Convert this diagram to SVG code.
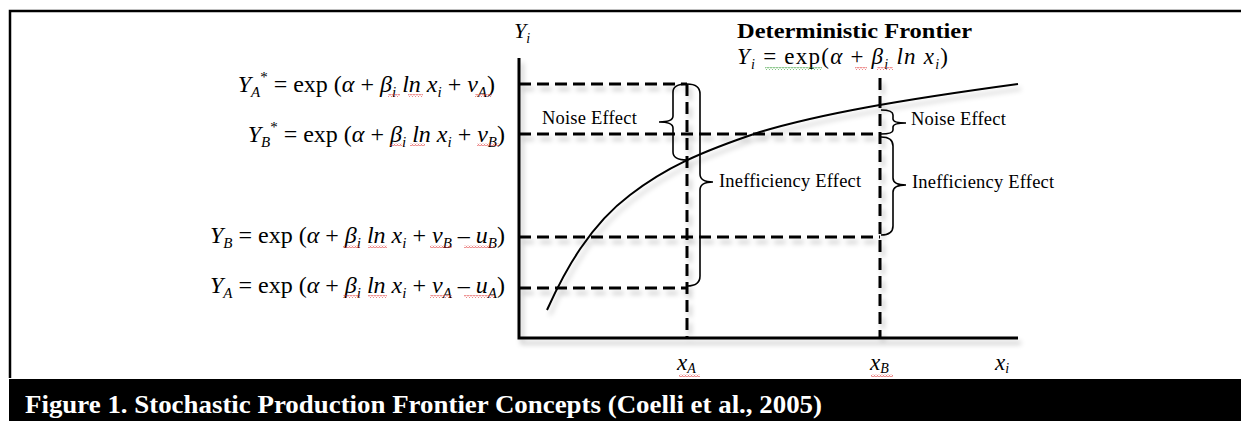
<svg xmlns="http://www.w3.org/2000/svg" width="1241" height="421" viewBox="0 0 1241 421">
<style>
.t{font-family:"Liberation Serif","Times New Roman",Times,serif;fill:#000}
.it{font-style:italic}
.dash{stroke:#000;stroke-width:3;stroke-dasharray:12 6;fill:none}
.axis{stroke:#000;stroke-width:3;fill:none}
.brace{stroke:#000;stroke-width:1.6;fill:none}
.curve{stroke:#000;stroke-width:2;fill:none}
.lbl{font-family:"Liberation Serif","Times New Roman",Times,serif;font-size:18.5px;fill:#000;letter-spacing:0.2px}
.wr{fill:url(#wr)}
.wg{fill:url(#wg)}
</style>
<defs>
<filter id="sh" x="-10%" y="-10%" width="130%" height="140%">
<feDropShadow dx="3" dy="5" stdDeviation="2.5" flood-color="#000" flood-opacity="0.22"/>
</filter>
<pattern id="wr" width="3" height="3" patternUnits="userSpaceOnUse"><path d="M0,2.5 L1.5,0.5 L3,2.5" stroke="#e03030" stroke-width="0.7" fill="none"/></pattern>
<pattern id="wg" width="3" height="3" patternUnits="userSpaceOnUse"><path d="M0,2.5 L1.5,0.5 L3,2.5" stroke="#2a9a2a" stroke-width="0.7" fill="none"/></pattern>
</defs>
<rect x="0" y="0" width="1241" height="421" fill="#fff"/>
<g id="frame">
<path d="M10,378 V11 H1241" stroke="#000" stroke-width="2.5" fill="none"/>
<rect x="9" y="379" width="1232" height="42" fill="#000"/>
<text x="25" y="413" font-family="Liberation Serif, Times New Roman, serif" font-size="25" font-weight="bold" fill="#fff" textLength="797" lengthAdjust="spacingAndGlyphs">Figure 1.  Stochastic Production Frontier Concepts (Coelli et al., 2005)</text>
</g>
<g id="connectors" filter="url(#sh)">
<path class="axis" d="M519,58 V338 H1018"/>
<path class="dash" d="M519,84 H687"/>
<path class="dash" d="M519,134 H880"/>
<path class="dash" d="M519,237 H880"/>
<path class="dash" d="M519,288 H687"/>
<path class="dash" d="M687,84 V338"/>
<path class="dash" d="M880,78 V338"/>
<path class="curve" d="M547,310 C565,270 590,225 630,195 C665,168 700,152 760,132 C820,114 900,100 1018,84"/>
</g>
<g id="brace-noise-A">
<path class="brace" d="M687,84 Q673,84 673,92 L673,116 Q673,122 659,122 Q673,122 673,128 L673,152 Q673,160 687,160"/>
<text class="lbl" x="542" y="124">Noise Effect</text>
</g>
<g id="brace-ineff-A">
<path class="brace" d="M687,84 Q700,84 700,94 L700,174 Q700,182 713,182 Q700,182 700,190 L700,276 Q700,286 687,286"/>
<text class="lbl" x="719" y="187">Inefficiency Effect</text>
</g>
<g id="brace-noise-B">
<path class="brace" d="M881,110 Q893,110 893,115 L893,119 Q893,123 906,123 Q893,123 893,127 L893,130 Q893,134 881,134"/>
<text class="lbl" x="911" y="125">Noise Effect</text>
</g>
<g id="brace-ineff-B">
<path class="brace" d="M881,137 Q893,137 893,146 L893,178 Q893,185 906,185 Q893,185 893,192 L893,226 Q893,235 881,235"/>
<text class="lbl" x="912" y="188">Inefficiency Effect</text>
</g>
<g id="eq-YAstar">
<text class="t" x="495" y="92" font-size="24" text-anchor="end"><tspan class="it">Y</tspan><tspan class="it" font-size="15" dy="5">A</tspan><tspan font-size="15" dy="-15">*</tspan><tspan dy="10"> = exp (</tspan><tspan class="it">α</tspan> + <tspan class="it">β</tspan><tspan class="it" font-size="15" dy="5">i</tspan><tspan dy="-5"> </tspan><tspan class="it">ln x</tspan><tspan class="it" font-size="15" dy="5">i</tspan><tspan dy="-5"> + </tspan><tspan class="it">v</tspan><tspan class="it" font-size="15" dy="5">A</tspan><tspan dy="-5">)</tspan></text>
<rect class="wr" x="388" y="94" width="12" height="3"/><rect class="wr" x="408" y="94" width="15" height="3"/><rect class="wr" x="475" y="94" width="17" height="3"/>
</g>
<g id="eq-YBstar">
<text class="t" x="505" y="142" font-size="24" text-anchor="end"><tspan class="it">Y</tspan><tspan class="it" font-size="15" dy="5">B</tspan><tspan font-size="15" dy="-15">*</tspan><tspan dy="10"> = exp (</tspan><tspan class="it">α</tspan> + <tspan class="it">β</tspan><tspan class="it" font-size="15" dy="5">i</tspan><tspan dy="-5"> </tspan><tspan class="it">ln x</tspan><tspan class="it" font-size="15" dy="5">i</tspan><tspan dy="-5"> + </tspan><tspan class="it">v</tspan><tspan class="it" font-size="15" dy="5">B</tspan><tspan dy="-5">)</tspan></text>
<rect class="wr" x="390" y="143" width="12" height="3"/><rect class="wr" x="410" y="143" width="15" height="3"/><rect class="wr" x="477" y="143" width="22" height="3"/>
</g>
<g id="eq-YB">
<text class="t" x="505" y="243" font-size="24" text-anchor="end"><tspan class="it">Y</tspan><tspan class="it" font-size="15" dy="5">B</tspan><tspan dy="-5"> = exp (</tspan><tspan class="it">α</tspan> + <tspan class="it">β</tspan><tspan class="it" font-size="15" dy="5">i</tspan><tspan dy="-5"> </tspan><tspan class="it">ln x</tspan><tspan class="it" font-size="15" dy="5">i</tspan><tspan dy="-5"> + </tspan><tspan class="it">v</tspan><tspan class="it" font-size="15" dy="5">B</tspan><tspan dy="-5"> – </tspan><tspan class="it">u</tspan><tspan class="it" font-size="15" dy="5">B</tspan><tspan dy="-5">)</tspan></text>
<rect class="wr" x="343" y="245" width="17" height="3"/><rect class="wr" x="368" y="245" width="19" height="3"/><rect class="wr" x="430" y="245" width="22" height="3"/><rect class="wr" x="464" y="245" width="30" height="3"/>
</g>
<g id="eq-YA">
<text class="t" x="505" y="293" font-size="24" text-anchor="end"><tspan class="it">Y</tspan><tspan class="it" font-size="15" dy="5">A</tspan><tspan dy="-5"> = exp (</tspan><tspan class="it">α</tspan> + <tspan class="it">β</tspan><tspan class="it" font-size="15" dy="5">i</tspan><tspan dy="-5"> </tspan><tspan class="it">ln x</tspan><tspan class="it" font-size="15" dy="5">i</tspan><tspan dy="-5"> + </tspan><tspan class="it">v</tspan><tspan class="it" font-size="15" dy="5">A</tspan><tspan dy="-5"> – </tspan><tspan class="it">u</tspan><tspan class="it" font-size="15" dy="5">A</tspan><tspan dy="-5">)</tspan></text>
<rect class="wr" x="343" y="295" width="17" height="3"/><rect class="wr" x="368" y="295" width="19" height="3"/><rect class="wr" x="430" y="295" width="22" height="3"/><rect class="wr" x="464" y="295" width="30" height="3"/>
</g>
<g id="title">
<text class="t" x="737" y="38" font-size="21" font-weight="bold" textLength="235" lengthAdjust="spacingAndGlyphs">Deterministic Frontier</text>
<text class="t" x="737" y="64" font-size="23" textLength="211" lengthAdjust="spacing"><tspan class="it">Y</tspan><tspan class="it" font-size="14" dy="5">i</tspan><tspan dy="-5"> = exp(</tspan><tspan class="it">α</tspan> + <tspan class="it">β</tspan><tspan class="it" font-size="14" dy="5">i</tspan><tspan dy="-5"> </tspan><tspan class="it">ln x</tspan><tspan class="it" font-size="14" dy="5">i</tspan><tspan dy="-5">)</tspan></text>
<rect class="wg" x="765" y="67" width="57" height="3"/><rect class="wr" x="855" y="67" width="12" height="3"/><rect class="wr" x="877" y="67" width="16" height="3"/>
</g>
<g id="axis-labels">
<text class="t" x="514" y="38" font-size="22"><tspan class="it">Y</tspan><tspan class="it" font-size="14" dy="5">i</tspan></text>
<text class="t" x="677" y="370" font-size="23"><tspan class="it">x</tspan><tspan class="it" font-size="14" dy="3">A</tspan></text>
<text class="t" x="870" y="370" font-size="23"><tspan class="it">x</tspan><tspan class="it" font-size="14" dy="3">B</tspan></text>
<text class="t" x="995" y="370" font-size="23"><tspan class="it">x</tspan><tspan class="it" font-size="14" dy="3">i</tspan></text>
<rect class="wr" x="679" y="374" width="21" height="3"/><rect class="wr" x="871" y="374" width="22" height="3"/>
</g>
</svg>
